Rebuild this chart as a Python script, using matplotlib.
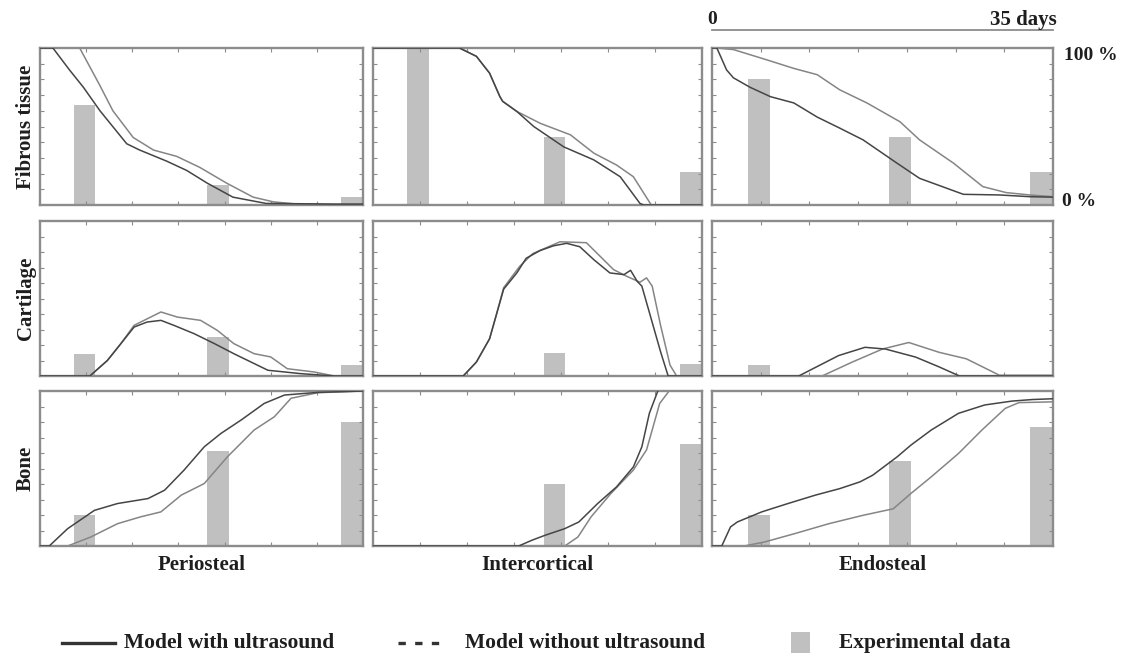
import matplotlib
matplotlib.use("Agg")
import matplotlib.pyplot as plt
from matplotlib.lines import Line2D
from matplotlib.patches import Rectangle

# ---- data -------------------------------------------------------------
tissues = ["Fibrous tissue", "Cartilage", "Bone"]
regions = ["Periosteal", "Intercortical", "Endosteal"]
legend_labels = ["Model with ultrasound", "Model without ultrasound", "Experimental data"]

exp_days = [4.8, 19.3, 33.8]

# experimental data (% of callus area), [region] -> 3 time points
exp_fibrous = [[64, 13, 5], [100, 43, 21], [80, 43, 21]]
exp_cartilage = [[14, 25, 7], [0, 15, 8], [7, 0, 0]]
exp_bone = [[20, 61, 80], [0, 40, 66], [20, 55, 77]]

# model with ultrasound: (days, %)
with_fib_peri_t = [0, 1.4, 3.2, 4.7, 6.5, 9.4, 10.8, 13.7, 15.9, 18.1, 20.9, 24.5, 31.8, 35]
with_fib_peri_v = [100, 100, 86, 75, 60, 39, 35, 28, 22, 14, 5, 1, 0.6, 0.6]
with_fib_inter_t = [0, 9.2, 11.0, 12.4, 13.5, 13.8, 15.3, 17.1, 20.3, 23.5, 26.3, 28.4, 28.8, 35]
with_fib_inter_v = [100, 100, 94.7, 84, 69, 66, 59.6, 50, 37, 28.7, 18, 1, 0, 0]
with_fib_endo_t = [0, 0.5, 1.5, 2.2, 3.9, 6.0, 8.4, 10.8, 13.1, 15.5, 19.0, 21.3, 25.8, 29.5, 32.6, 35]
with_fib_endo_v = [100, 100, 86, 81, 75, 69, 65, 56, 49, 41.5, 26.6, 17, 6.8, 6.4, 5.3, 5]

with_car_peri_t = [0, 5.4, 7.3, 8.7, 10.2, 11.6, 13.1, 14.5, 16.7, 18.9, 21.0, 24.7, 28.3, 31.9, 35]
with_car_peri_v = [0, 0, 10, 20.4, 31.6, 34.8, 35.9, 32.7, 27.3, 20.9, 14.4, 3.7, 1.5, 0, 0]
with_car_inter_t = [0, 9.6, 11.0, 12.4, 13.1, 13.9, 15.3, 16.3, 17.8, 19.2, 20.6, 22.0, 23.5,
                    25.2, 26.7, 27.4, 28.1, 28.6, 29.5, 30.6, 31.4, 35]
with_car_inter_v = [0, 0, 9, 24, 39, 56, 66.5, 76, 81, 84, 85.6, 83.4, 75,
                    66.5, 65.4, 68.2, 61.1, 58, 38.9, 15.5, 0, 0]
with_car_endo_t = [0, 8.9, 13.0, 15.7, 17.8, 20.9, 23.3, 25.4, 35]
with_car_endo_v = [0, 0, 13.2, 18.5, 17.4, 12.2, 5.9, 0, 0]

with_bone_peri_t = [0, 1.0, 3.0, 5.9, 8.4, 11.7, 13.5, 15.6, 17.8, 19.6, 21.8, 24.3, 26.5, 30.1, 35]
with_bone_peri_v = [0, 0, 11.2, 23, 27.4, 30.6, 36, 48.9, 64, 72.6, 81.3, 92, 97.4, 99.1, 100]
with_bone_inter_t = [0, 15.5, 16.9, 18.3, 20.4, 21.9, 23.9, 25.9, 27.7, 28.6, 29.4, 30.3]
with_bone_inter_v = [0, 0, 3.7, 6.9, 11.2, 15.5, 27.4, 38.1, 51, 64, 85.6, 100]
with_bone_endo_t = [0, 1.0, 1.9, 2.6, 5.1, 7.8, 10.6, 13.1, 15.2, 16.5, 19.0, 20.4, 22.5,
                    25.3, 28.0, 30.8, 32.9, 35]
with_bone_endo_v = [0, 0, 12.3, 15.5, 22, 27.4, 32.8, 37, 41.4, 45.7, 57.5, 65, 74.8,
                    85.6, 91, 93.5, 94.5, 95]

# model without ultrasound: (days, %)
wo_fib_peri_t = [0, 4.3, 5.4, 6.5, 7.9, 10.1, 12.3, 14.8, 17.3, 20.2, 23.1, 25.3, 28.0, 35]
wo_fib_peri_v = [100, 100, 88, 76, 60, 43, 35, 31, 24, 14, 5, 2, 0.5, 0]
wo_fib_inter_t = [0, 9.2, 11.0, 12.4, 13.5, 13.8, 15.3, 17.8, 21.0, 23.5, 25.9, 27.7, 29.5, 29.6, 35]
wo_fib_inter_v = [100, 100, 94.7, 84, 69, 66, 59.6, 52, 44.7, 33, 25.5, 18, 1, 0, 0]
wo_fib_endo_t = [0, 0.5, 2.2, 5.6, 8.4, 10.8, 13.1, 15.9, 19.3, 21.3, 24.8, 27.8, 30.2, 32.6, 35]
wo_fib_endo_v = [100, 100, 99, 92.5, 87, 83, 73.4, 65, 53, 41.5, 26.6, 11.7, 7.9, 6.4, 5.3]

wo_car_peri_t = [0, 5.4, 7.3, 8.7, 10.2, 13.1, 14.9, 17.4, 19.2, 21.0, 23.2, 25.0, 26.8, 29.7, 31.9, 35]
wo_car_peri_v = [0, 0, 10, 20.4, 32.7, 41.3, 38, 35.9, 29.5, 20.9, 14.4, 12.3, 4.7, 2.6, 0, 0]
wo_car_inter_t = [0, 9.6, 11.0, 12.4, 13.1, 13.9, 15.6, 17.0, 19.9, 22.7, 24.2, 25.6, 27.0,
                  28.4, 29.1, 29.7, 30.6, 31.6, 32.3, 35]
wo_car_inter_v = [0, 0, 9, 24, 39, 57, 70.7, 79, 86.6, 86, 77, 68.6, 64.3,
                  60.5, 63.3, 58, 32.5, 7, 0, 0]
wo_car_endo_t = [0, 11.3, 14.4, 17.5, 20.2, 23.3, 26.1, 29.5, 35]
wo_car_endo_v = [0, 0, 9, 17.4, 21.6, 15.3, 11.1, 0.5, 0.5]

wo_bone_peri_t = [0, 3.0, 5.5, 8.4, 10.9, 13.1, 15.3, 17.8, 20.3, 23.2, 25.4, 27.2, 30.1, 35]
wo_bone_peri_v = [0, 0, 5.8, 14.4, 18.8, 22, 32.8, 40.3, 57.5, 74.8, 83.4, 95.3, 98.9, 100]
wo_bone_inter_t = [0, 20.4, 21.8, 23.2, 25.3, 27.7, 29.1, 29.8, 30.5, 31.5]
wo_bone_inter_v = [0, 0, 5.8, 18.8, 33.8, 49, 62, 77, 92, 100]
wo_bone_endo_t = [0, 3.3, 5.4, 8.5, 12.0, 15.5, 18.6, 20.4, 22.5, 25.3, 27.7, 30.1, 31.5, 35]
wo_bone_endo_v = [0, 0, 2.6, 8, 14.4, 19.8, 24, 33.8, 44.6, 59.7, 74.8, 88.8, 92.5, 93]

with_series = [
    [(with_fib_peri_t, with_fib_peri_v), (with_fib_inter_t, with_fib_inter_v), (with_fib_endo_t, with_fib_endo_v)],
    [(with_car_peri_t, with_car_peri_v), (with_car_inter_t, with_car_inter_v), (with_car_endo_t, with_car_endo_v)],
    [(with_bone_peri_t, with_bone_peri_v), (with_bone_inter_t, with_bone_inter_v), (with_bone_endo_t, with_bone_endo_v)],
]
wo_series = [
    [(wo_fib_peri_t, wo_fib_peri_v), (wo_fib_inter_t, wo_fib_inter_v), (wo_fib_endo_t, wo_fib_endo_v)],
    [(wo_car_peri_t, wo_car_peri_v), (wo_car_inter_t, wo_car_inter_v), (wo_car_endo_t, wo_car_endo_v)],
    [(wo_bone_peri_t, wo_bone_peri_v), (wo_bone_inter_t, wo_bone_inter_v), (wo_bone_endo_t, wo_bone_endo_v)],
]
exp_values = [exp_fibrous, exp_cartilage, exp_bone]

# ---- style ------------------------------------------------------------
SERIF = ["Liberation Serif", "DejaVu Serif"]
TEXT = "#1e1e1e"
LINE_WITH = "#454545"
LINE_WO = "#858585"
BAR = "#c0c0c0"
FRAME = "#8c8c8c"

fig = plt.figure(figsize=(11.26, 6.57), dpi=100)

W, H = 1126.0, 657.0


def fx(px):
    return px / W


def fy(py):
    return 1 - py / H


col_px = [(40, 363), (373, 702), (712, 1053)]
row_px = [(48, 205), (221, 376), (391, 546)]

for r in range(3):
    for c in range(3):
        x0, x1 = col_px[c]
        y0, y1 = row_px[r]
        ax = fig.add_axes([fx(x0), fy(y1), (x1 - x0) / W, (y1 - y0) / H])
        ax.bar(exp_days, exp_values[r][c], width=2.3, color=BAR, zorder=1)
        t, v = wo_series[r][c]
        ax.plot(t, v, color=LINE_WO, lw=1.1, zorder=2)
        t, v = with_series[r][c]
        ax.plot(t, v, color=LINE_WITH, lw=1.1, zorder=3)
        ax.set_xlim(0, 35)
        ax.set_ylim(0, 100)
        ax.set_xticks(range(5, 35, 5))
        ax.set_yticks(range(10, 100, 10))
        ax.tick_params(direction="in", length=3, width=0.8, color=FRAME,
                       top=True, right=True, labelbottom=False, labelleft=False)
        for s in ax.spines.values():
            s.set_color(FRAME)
            s.set_linewidth(1.7)

# row labels
for r, name in enumerate(tissues):
    y0, y1 = row_px[r]
    fig.text(fx(26), fy((y0 + y1) / 2), name, rotation=90, ha="center", va="center",
             family=SERIF, fontweight="bold", fontsize=15, color=TEXT)

# column labels
for c, name in enumerate(regions):
    x0, x1 = col_px[c]
    fig.text(fx((x0 + x1) / 2), fy(565), name, ha="center", va="center",
             family=SERIF, fontweight="bold", fontsize=15, color=TEXT)

# time scale and percentage annotations
fig.add_artist(Line2D([fx(712), fx(1053)], [fy(30), fy(30)], color=FRAME, lw=1.3))
fig.text(fx(712), fy(19), "0", ha="center", va="center", family=SERIF,
         fontweight="bold", fontsize=14, color=TEXT)
fig.text(fx(1057), fy(20), "35 days", ha="right", va="center", family=SERIF,
         fontweight="bold", fontsize=15, color=TEXT)
fig.text(fx(1064), fy(56), "100 %", ha="left", va="center", family=SERIF,
         fontweight="bold", fontsize=14, color=TEXT)
fig.text(fx(1062), fy(202), "0 %", ha="left", va="center", family=SERIF,
         fontweight="bold", fontsize=14, color=TEXT)

# legend row
LEG_Y = 643
fig.add_artist(Line2D([fx(62), fx(115)], [fy(LEG_Y), fy(LEG_Y)], color="#333333", lw=2.4))
fig.text(fx(124), fy(LEG_Y), legend_labels[0], ha="left", va="center", family=SERIF,
         fontweight="bold", fontsize=15.5, color=TEXT)
fig.add_artist(Line2D([fx(398), fx(443)], [fy(LEG_Y), fy(LEG_Y)], color="#333333", lw=2.4,
                      ls=(0, (2.2, 2.8))))
fig.text(fx(465), fy(LEG_Y), legend_labels[1], ha="left", va="center", family=SERIF,
         fontweight="bold", fontsize=15.5, color=TEXT)
fig.add_artist(Rectangle((fx(791), fy(653)), 19 / W, 21 / H, facecolor=BAR,
                         edgecolor="none", transform=fig.transFigure))
fig.text(fx(839), fy(LEG_Y), legend_labels[2], ha="left", va="center", family=SERIF,
         fontweight="bold", fontsize=15.5, color=TEXT)

fig.savefig("out.png", dpi=100, facecolor="white")
